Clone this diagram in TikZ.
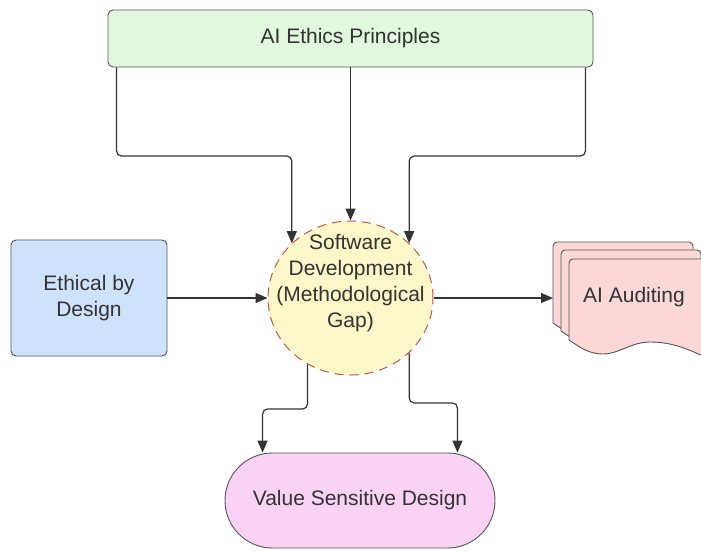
\documentclass[tikz,border=0pt]{standalone}
\usepackage{fontspec}
\setmainfont{Liberation Sans}
\usetikzlibrary{shapes.geometric,arrows.meta}
\definecolor{ink}{HTML}{333333}
\definecolor{edge}{HTML}{555555}
\definecolor{greenfill}{HTML}{E2F8DE}
\definecolor{bluefill}{HTML}{CFE2FB}
\definecolor{yellowfill}{HTML}{FBF7C9}
\definecolor{pinkfill}{HTML}{FBD7D7}
\definecolor{vsdfill}{HTML}{F9D2F5}
\definecolor{dashred}{HTML}{C0574A}
\newcommand\docsheet[2]{%
  \draw[sheetstyle] [rounded corners=4pt] ({#1},{#2+81}) -- ({#1},{#2}) -- ({#1+140},{#2}) -- ({#1+140},{#2+100})
    [sharp corners] .. controls ({#1+115},{#2+88}) and ({#1+100},{#2+83}) .. ({#1+81},{#2+83})
    .. controls ({#1+62},{#2+83}) and ({#1+50},{#2+95}) .. ({#1+34},{#2+95})
    .. controls ({#1+18},{#2+95}) and ({#1+8},{#2+86}) .. ({#1},{#2+81}) -- cycle;}
\begin{document}
\begin{tikzpicture}[x=1pt,y=-1pt,
  conn/.style={draw=ink, line width=1.2pt, rounded corners=5pt, -{Triangle[length=12pt,width=10pt]}},
  boxstyle/.style={draw=edge, line width=0.9pt, rounded corners=5pt, text=ink, align=center,
    font=\fontsize{21}{26}\selectfont, inner sep=0pt},
  txt/.style={text=ink, align=center, font=\fontsize{21}{26}\selectfont, inner sep=0pt},
  sheetstyle/.style={draw=edge, line width=0.9pt, fill=pinkfill},
]
\useasboundingbox (0,0) rectangle (701,550);
\clip (0,0) rectangle (701,550);
\fill[white] (0,0) rectangle (701,550);

\node[boxstyle, fill=greenfill, minimum width=485pt, minimum height=57pt] (top) at (350.5,38.5) {AI Ethics Principles};
\node[boxstyle, fill=bluefill, minimum width=156pt, minimum height=116pt] (eth) at (89,298) {Ethical by\\Design};
\node[ellipse, draw=dashred, dash pattern=on 9pt off 6pt, line width=1pt, fill=yellowfill,
  minimum width=165pt, minimum height=154pt, inner sep=0pt] (sd) at (350.5,298) {};
\node[txt] (sdt) at (350.5,283) {Software\\Development\\(Methodological\\Gap)};
\node[boxstyle, fill=vsdfill, rounded corners=47.5pt, minimum width=270pt, minimum height=95pt] (vsd) at (360,500.5) {Value Sensitive Design};

\docsheet{553}{242}
\docsheet{561}{250}
\docsheet{569}{259}
\node[txt] (aud) at (634,297) {AI Auditing};
\coordinate (audin) at (553,298);

\coordinate (vl) at ([xshift=38pt]vsd.north west);
\coordinate (vr) at ([xshift=-38pt]vsd.north east);
\coordinate (tl) at ([xshift=9pt]top.south west);
\coordinate (tr) at ([xshift=-8pt]top.south east);

\draw[conn] (tl) |- (sd.north west |- 0,156) -- (sd.north west);
\draw[conn] (tr) |- (sd.north east |- 0,156) -- (sd.north east);
\draw[conn] (top.south) -- (sd.north);
\draw[conn] (eth.east) -- (sd.west);
\draw[conn] (sd.east) -- (audin);
\draw[conn] (sd.237) |- (vl |- 0,409) -- (vl);
\draw[conn] (sd.-43) |- (vr |- 0,403) -- (vr);
\end{tikzpicture}
\end{document}
